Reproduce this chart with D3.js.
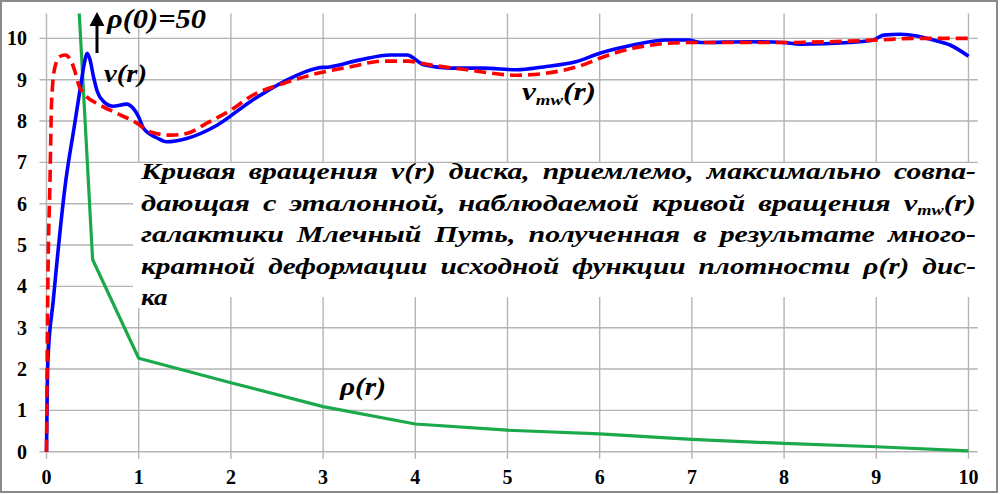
<!DOCTYPE html>
<html>
<head>
<meta charset="utf-8">
<script src="https://cdn.jsdelivr.net/npm/d3@7"></script>
<style>
  body { margin: 0; background: #fff; }
  svg { display: block; }
</style>
</head>
<body>
<svg id="chart" width="1000" height="494" font-family="'Liberation Serif', 'Times New Roman', serif" font-weight="bold"></svg>
<script>
// tick labels
var xTicks = [0, 1, 2, 3, 4, 5, 6, 7, 8, 9, 10];
var yTicks = [0, 1, 2, 3, 4, 5, 6, 7, 8, 9, 10];

// density rho(r) of the disk (rho(0)=50, off the chart)
var rhoR = [0, 0.2, 0.5, 1, 2, 3, 4, 5, 6, 7, 8, 9, 10];
var rhoV = [50, 17, 4.65, 2.26, 1.67, 1.09, 0.67, 0.52, 0.43, 0.30, 0.20, 0.12, 0.02];

// rotation curve v(r) of the disk
var vR = [0, 0.015, 0.074, 0.21, 0.30, 0.38, 0.415, 0.44, 0.47, 0.51, 0.55, 0.62, 0.72, 0.87, 0.94, 1.0,
          1.05, 1.2, 1.3, 1.52, 1.85, 2.21, 2.57, 2.93, 3.07, 3.4, 3.73, 3.91, 4.09, 4.38, 4.74, 5.1,
          5.39, 5.75, 6.0, 6.36, 6.73, 6.96, 7.09, 7.63, 7.99, 8.17, 8.71, 8.97, 9.08, 9.26, 9.44,
          9.62, 9.8, 10];
var vV = [0, 2.2, 3.67, 6.57, 7.85, 8.99, 9.45, 9.64, 9.5, 9.07, 8.72, 8.47, 8.36, 8.41, 8.31, 8.1,
          7.83, 7.59, 7.50, 7.58, 7.90, 8.47, 8.95, 9.28, 9.31, 9.48, 9.60, 9.60, 9.36, 9.28, 9.28, 9.24,
          9.31, 9.44, 9.64, 9.84, 9.96, 9.96, 9.90, 9.92, 9.90, 9.86, 9.90, 9.96, 10.08, 10.10, 10.06,
          9.96, 9.84, 9.57];

// observed Milky Way curve v_mw(r)
var mwR = [0, 0.013, 0.038, 0.056, 0.092, 0.146, 0.2, 0.27, 0.31, 0.35, 0.42, 0.58, 0.76, 0.98, 1.12,
           1.34, 1.52, 1.74, 2.03, 2.21, 2.57, 2.93, 3.29, 3.65, 3.91, 4.16, 4.56, 5.1, 5.39, 5.82, 6.0,
           6.36, 6.73, 6.98, 7.5, 8.0, 8.5, 9.0, 9.44, 10];
var mwV = [0, 3.67, 6.57, 8.5, 9.31, 9.56, 9.6, 9.44, 9.19, 8.87, 8.63, 8.39, 8.19, 7.95, 7.74,
           7.66, 7.70, 7.95, 8.31, 8.59, 8.91, 9.15, 9.31, 9.45, 9.45, 9.36, 9.24, 9.11, 9.15, 9.36, 9.52,
           9.76, 9.88, 9.90, 9.90, 9.90, 9.92, 9.96, 10.0, 10.0];

var noteLines = [
  ["Кривая", "вращения", "v(r)", "диска,", "приемлемо,", "максимально", "совпа-"],
  ["дающая", "с", "эталонной,", "наблюдаемой", "кривой", "вращения", "v_mw(r)"],
  ["галактики", "Млечный", "Путь,", "полученная", "в", "результате", "много-"],
  ["кратной", "деформации", "исходной", "функции", "плотности", "ρ(r)", "дис-"],
  ["ка"]
];

var svg = d3.select("#chart");
var x = d3.scaleLinear().domain([0, 10.1]).range([46.5, 977.7]);
var y = d3.scaleLinear().domain([0, 10.6]).range([451.7, 13.6]);

// frame
svg.append("rect").attr("x", 1).attr("y", 1).attr("width", 996).attr("height", 491)
  .attr("fill", "none").attr("stroke", "#8a8a8a").attr("stroke-width", 2);

// grid
svg.append("g").selectAll("line").data(yTicks).join("line")
  .attr("x1", x(0) - 7).attr("x2", x.range()[1])
  .attr("y1", function(d){ return y(d); }).attr("y2", function(d){ return y(d); })
  .attr("stroke", "#b4b4b4").attr("stroke-width", 1.4);
svg.append("g").selectAll("line").data(xTicks).join("line")
  .attr("x1", function(d){ return x(d); }).attr("x2", function(d){ return x(d); })
  .attr("y1", y.range()[1]).attr("y2", y(0) + 7)
  .attr("stroke", "#b4b4b4").attr("stroke-width", 1.4);

// tick labels
svg.append("g").selectAll("text").data(yTicks).join("text")
  .attr("x", 27).attr("y", function(d){ return y(d) + 7; })
  .attr("text-anchor", "end").attr("font-size", 20).text(function(d){ return d; });
svg.append("g").selectAll("text").data(xTicks).join("text")
  .attr("x", function(d){ return x(d); }).attr("y", 484)
  .attr("text-anchor", "middle").attr("font-size", 20).text(function(d){ return d; });

// note box background
svg.append("rect").attr("x", 133).attr("y", 163).attr("width", 845).attr("height", 134).attr("fill", "#fff");
svg.append("rect").attr("x", 133).attr("y", 290).attr("width", 40).attr("height", 18).attr("fill", "#fff");

// curves
svg.append("clipPath").attr("id", "plot").append("rect")
  .attr("x", x.range()[0] - 3).attr("y", y.range()[1])
  .attr("width", x.range()[1] - x.range()[0] + 6).attr("height", y(0) - y.range()[1] + 3);
var plot = svg.append("g").attr("clip-path", "url(#plot)");

var straight = d3.line().x(function(d){ return x(d[0]); }).y(function(d){ return y(d[1]); });
var smooth = d3.line().x(function(d){ return x(d[0]); }).y(function(d){ return y(d[1]); })
  .curve(d3.curveMonotoneX);

plot.append("path").datum(d3.zip(rhoR, rhoV)).attr("d", straight)
  .attr("fill", "none").attr("stroke", "#1ba94c").attr("stroke-width", 3.2).attr("stroke-linejoin", "round");
plot.append("path").datum(d3.zip(vR, vV)).attr("d", smooth)
  .attr("fill", "none").attr("stroke", "#0000ff").attr("stroke-width", 3.6).attr("stroke-linejoin", "round");
plot.append("path").datum(d3.zip(mwR, mwV)).attr("d", smooth)
  .attr("fill", "none").attr("stroke", "#ff0000").attr("stroke-width", 3.6)
  .attr("stroke-dasharray", "12,6");

// writes a word, "_" starts a subscript that runs up to "("
function addWord(g, word, px, py, size) {
  var t = g.append("text").attr("x", px).attr("y", py).attr("font-size", size).attr("font-style", "italic");
  var m = word.match(/^(.*)_([a-z]+)(\(.*)$/);
  if (m) {
    t.append("tspan").text(m[1]);
    t.append("tspan").attr("font-size", size * 0.6).attr("dy", size * 0.2).text(m[2]);
    t.append("tspan").attr("dy", -size * 0.2).text(m[3]);
  } else {
    t.text(word);
  }
  return t;
}

// stretch a text to a width (the original face is wider)
function widen(t, w) {
  t.attr("textLength", w).attr("lengthAdjust", "spacingAndGlyphs");
}

// justified note
var noteG = svg.append("g");
var left = 141, right = 976, base = 179, lead = 31.6, fs = 23, wordGap = 13, stretch0 = 1.18;
noteLines.forEach(function(words, i) {
  var items = words.map(function(w){ return addWord(noteG, w, 0, base + i * lead, fs); });
  var widths = items.map(function(t){ return t.node().getComputedTextLength(); });
  var s = stretch0, gap = wordGap;
  if (i < noteLines.length - 1 && words.length > 1) {
    s = (right - left - wordGap * (words.length - 1)) / d3.sum(widths);
  }
  var cx = left;
  items.forEach(function(t, k){
    var w = widths[k] * s;
    widen(t, w);
    t.attr("x", cx);
    cx += w + gap;
  });
});

// labels
widen(addWord(svg, "ρ(0)=50", 107, 28, 27), 99);
widen(addWord(svg, "v(r)", 104, 82, 26), 43);
widen(addWord(svg, "v_mw(r)", 522, 100, 26), 74);
widen(addWord(svg, "ρ(r)", 340, 395, 26), 46);

// arrow to rho(0)
svg.append("line").attr("x1", 97).attr("x2", 97).attr("y1", 53).attr("y2", 22)
  .attr("stroke", "#000").attr("stroke-width", 3);
svg.append("path").attr("d", "M89.5,26 L97,12 L104.5,26 Z").attr("fill", "#000");
</script>
</body>
</html>
